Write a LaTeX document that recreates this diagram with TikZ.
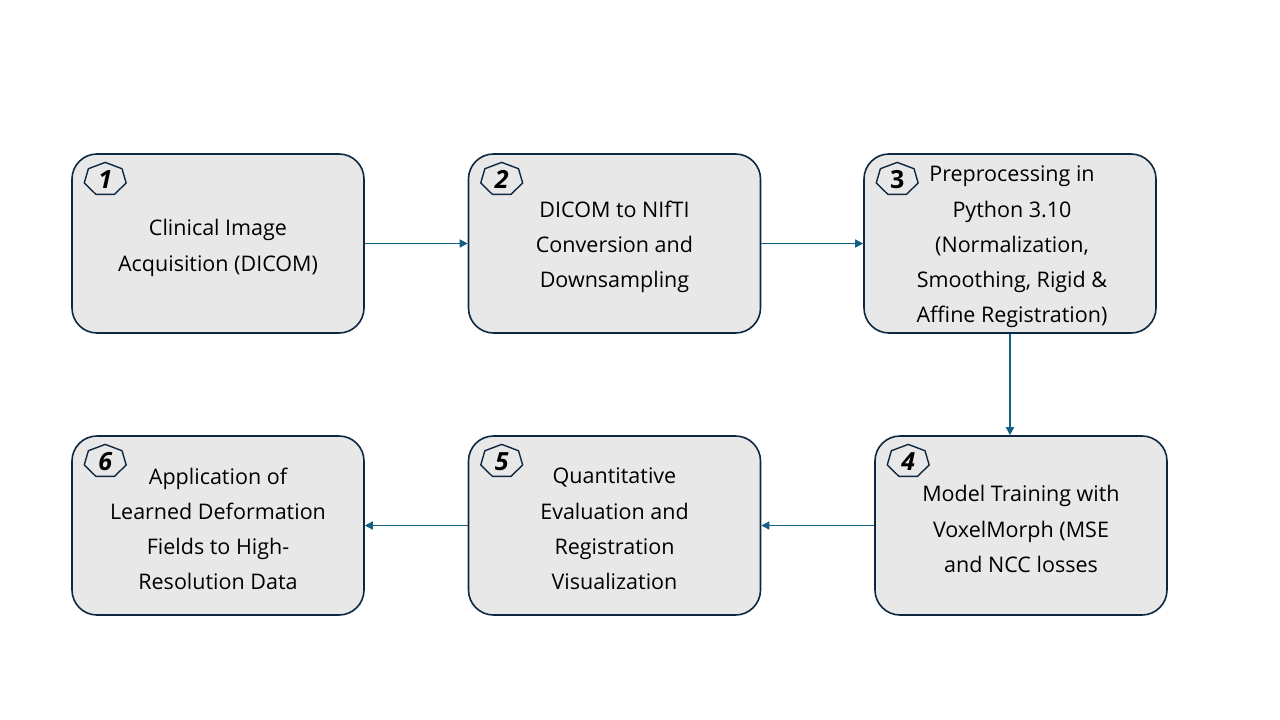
\documentclass[tikz,border=0pt]{standalone}
\usepackage{fontspec}
\setmainfont{Open Sans}
\usetikzlibrary{arrows.meta}
\definecolor{boxfill}{HTML}{E8E8E8}
\definecolor{boxline}{HTML}{0E2841}
\definecolor{arrowblue}{HTML}{156082}
\tikzset{
	stepbox/.style={draw=boxline, line width=1.6pt, fill=boxfill, rounded corners=25pt,
		minimum width=292pt, minimum height=179pt, inner sep=0pt},
	steptext/.style={align=center, font=\fontsize{21.5pt}{35.2pt}\selectfont, inner sep=0pt},
	badgenum/.style={font=\fontsize{25pt}{25pt}\selectfont\bfseries\itshape, inner sep=0pt},
	flow/.style={draw=arrowblue, line width=1.5pt, -{Triangle[length=8pt,width=8pt]}}
}
\begin{document}
\begin{tikzpicture}[x=1pt,y=-1pt]
	\useasboundingbox[fill=white] (0,0) rectangle (1280,720);
	
	% Kaesten der Arbeitsschritte
	\node[stepbox] (b1) at (218,243.5) {};
	\node[stepbox] (b2) at (614.5,243.5) {};
	\node[stepbox] (b3) at (1010,243.5) {};
	\node[stepbox] (b4) at (1021,525.5) {};
	\node[stepbox] (b5) at (614.5,525.5) {};
	\node[stepbox] (b6) at (218,525.5) {};
	
	% Texte
	\node[steptext] (t1) at (218,248) {Clinical Image\\Acquisition (DICOM)};
	\node[steptext] (t2) at (614.5,247) {DICOM to NIfTI\\Conversion and\\Downsampling};
	\node[steptext] (t3) at (1012,247) {Preprocessing in\\Python 3.10\\(Normalization,\\Smoothing, Rigid \&\\Affine Registration)};
	\node[steptext] (t4) at (1021,529) {Model Training with\\VoxelMorph (MSE\\and NCC losses};
	\node[steptext] (t5) at (614.5,529) {Quantitative\\Evaluation and\\Registration\\Visualization};
	\node[steptext] (t6) at (218,529) {Application of\\Learned Deformation\\Fields to High-\\Resolution Data};
	
	% Nummern mit Siebenecken
	\foreach \i/\n in {1/1,2/2,4/4,5/5,6/6} {
		\node[badgenum] (n\i) at ([shift={(34,26)}]b\i.north west) {\n};
	}
	\node[badgenum, font=\fontsize{25pt}{25pt}\selectfont\bfseries] (n3) at ([shift={(34,26)}]b3.north west) {3};
	\foreach \i in {1,...,6} {
		\draw[boxline, line width=1.4pt, line join=round, shift={(n\i)}]
			(-90:21.5 and 16.8) \foreach \k in {1,...,6} { -- (-90+\k*360/7:21.5 and 16.8) } -- cycle;
	}
	
	% Pfeile
	\draw[flow] (b1.east) -- (b2.west);
	\draw[flow] (b2.east) -- (b3.west);
	\draw[flow] (b3.south) -- (b3.south |- b4.north);
	\draw[flow] (b4.west) -- (b5.east);
	\draw[flow] (b5.west) -- (b6.east);
\end{tikzpicture}
\end{document}
